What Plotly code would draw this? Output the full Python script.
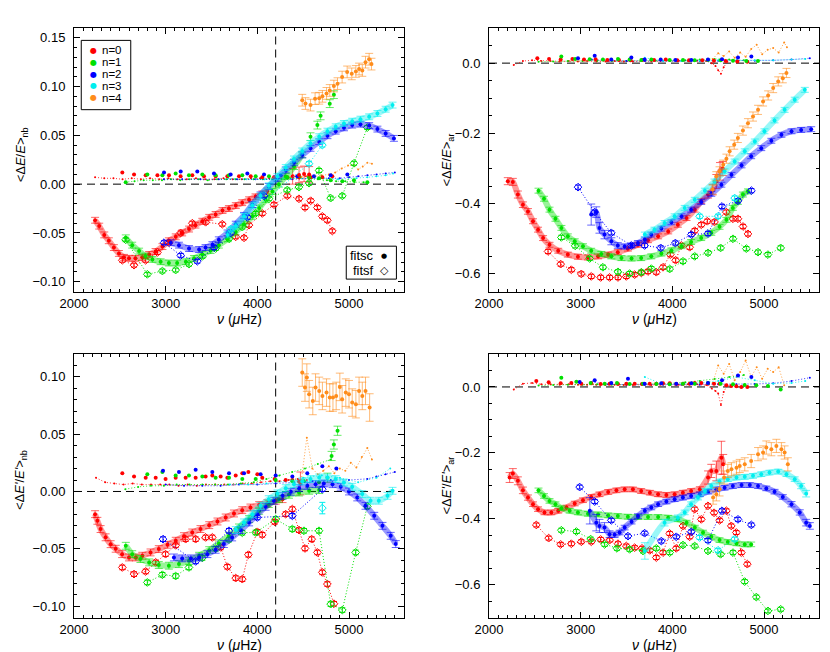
import plotly.graph_objects as go

RED = '#ff0000'; GRN = '#00e000'; BLU = '#0000ff'; CYN = '#00eeee'; ORG = '#ff8c1a'

# ---------------- Panel A (top-left) <dE/E>_nb ----------------
a_sc0_nu = [2230,2275,2330,2380,2435,2490,2545,2600,2670,2745,2820,2890,2965,3035,3110,3180,3255,3325,3400,3475,3545,3620,3690,3765,3835,3910,3980,4055,4110]
a_sc0_v = [-0.037,-0.043,-0.052,-0.058,-0.065,-0.071,-0.075,-0.076,-0.076,-0.075,-0.072,-0.069,-0.064,-0.058,-0.054,-0.050,-0.046,-0.042,-0.038,-0.034,-0.031,-0.027,-0.025,-0.022,-0.019,-0.016,-0.013,-0.010,-0.007]
a_sc0x_nu = [4385,4455,4510,4565]
a_sc0x_v = [0.008,0.0095,0.0105,0.010]
a_sf0_nu = [2527,2655,2782,2910,3036,3163,3291,3436,3618,3764,3855,3909,4054,4182,4327,4454,4520,4582,4655,4709,4764,4818]
a_sf0_v = [-0.078,-0.083,-0.078,-0.070,-0.060,-0.050,-0.040,-0.039,-0.041,-0.054,-0.055,-0.042,-0.030,-0.021,-0.012,-0.015,-0.024,-0.017,-0.024,-0.033,-0.037,-0.048]
a_sc1_nu = [2565,2635,2710,2780,2855,2945,3035,3125,3220,3310,3400,3490,3580,3675,3765,3855,3945,4020,4090,4165,4235,4310,4400,4490]
a_sc1_v = [-0.055,-0.0625,-0.0686,-0.0737,-0.0771,-0.0795,-0.0808,-0.0808,-0.0795,-0.0761,-0.072,-0.068,-0.0625,-0.056,-0.049,-0.041,-0.033,-0.0245,-0.016,-0.0075,0.0,0.0078,0.018,0.030]
a_sc1x_nu = [4580,4655,4690,4790,4835]
a_sc1x_v = [0.0486,0.0605,0.070,0.0825,0.0917]
a_sf1_nu = [2564,2800,2964,3109,3254,3400,3545,3691,3836,3982,4127,4327,4454,4564,4673,4800,4927,5054,5200]
a_sf1_v = [-0.057,-0.0924,-0.089,-0.088,-0.082,-0.074,-0.066,-0.056,-0.044,-0.030,-0.015,-0.006,-0.003,0.001,0.014,-0.0143,-0.012,0.0214,0.058]
a_sc2_nu = [3055,3145,3255,3365,3435,3510,3580,3675,3765,3855,3945,4035,4125,4220,4310,4400,4490,4580,4675,4765,4855,4945,5035,5125,5220,5310,5400,5490]
a_sc2_v = [-0.060,-0.0625,-0.066,-0.067,-0.065,-0.062,-0.057,-0.050,-0.041,-0.032,-0.021,-0.011,-0.0024,0.006,0.0146,0.0224,0.030,0.0367,0.0435,0.0496,0.0543,0.0577,0.0605,0.0615,0.060,0.0564,0.052,0.0469]
a_sf2_nu = [2982,3164,3345,3527,3709,3891,4073]
a_sf2_v = [-0.060,-0.073,-0.079,-0.065,-0.050,-0.034,-0.012]
a_sc3_nu = [3675,3765,3855,3945,4035,4125,4220,4310,4400,4490,4580,4675,4765,4855,4945,5035,5125,5220,5310,5400,5475]
a_sc3_v = [-0.052,-0.043,-0.033,-0.022,-0.012,-0.0017,0.0078,0.017,0.0258,0.034,0.0418,0.0486,0.0543,0.0588,0.0622,0.0645,0.0666,0.069,0.0724,0.0768,0.081]
a_sf3_nu = [3709,4564,4709]
a_sf3_v = [-0.046,0.021,0.040]
a_sc4_nu = [4490,4525,4580,4630,4675,4710,4755,4790,4835,4875,4925,4980,5030,5075,5110,5145,5180,5220,5245]
a_sc4_v = [0.086,0.0826,0.081,0.0876,0.088,0.090,0.093,0.096,0.1005,0.103,0.1097,0.115,0.113,0.1155,0.118,0.1165,0.125,0.128,0.123]
a_t0_nu = [2230,2330,2430,2530,2630,2730,2830,2930,3030,3130,3230,3330,3430,3530,3630,3730,3830,3930,4030,4130,4230,4330,4430,4530]
a_t0_v = [0.007,0.006,0.006,0.005,0.006,0.005,0.006,0.005,0.006,0.005,0.005,0.006,0.005,0.005,0.006,0.005,0.005,0.006,0.006,0.006,0.007,0.007,0.008,0.008]
a_t1_nu = [2560,2660,2760,2860,2960,3060,3160,3260,3360,3460,3560,3660,3760,3860,3960,4060,4160,4260,4360,4460,4560,4660,4760,4860,4960,5060,5160]
a_t1_v = [0.002,0.003,0.004,0.004,0.004,0.005,0.004,0.005,0.005,0.004,0.005,0.005,0.005,0.005,0.005,0.005,0.005,0.005,0.006,0.006,0.005,0.005,0.004,0.003,0.003,0.002,0.002]
a_t2_nu = [2980,3180,3380,3580,3780,3980,4180,4380,4580,4780,4900,5000,5100,5200,5300,5400,5500]
a_t2_v = [0.005,0.005,0.005,0.005,0.005,0.005,0.005,0.005,0.006,0.006,0.006,0.007,0.008,0.009,0.010,0.011,0.012]
a_t3_nu = [3680,3880,4080,4280,4480,4680,4880,5080,5200,5300,5400,5480]
a_t3_v = [0.006,0.005,0.005,0.006,0.006,0.006,0.005,0.006,0.007,0.008,0.009,0.011]
a_t4_nu = [4480,4550,4620,4700,4780,4850,4920,4990,5050,5100,5150,5200,5250]
a_t4_v = [0.007,0.008,0.008,0.009,0.010,0.012,0.016,0.019,0.020,0.015,0.018,0.022,0.021]
a_m0_nu = [2527,2655,2782,2910,3036,3163,3291,3418,3545,3673,3800,3928,4054,4182,4327,4454,4582,4709,4818]
a_m0_v = [0.012,0.010,0.009,0.009,0.009,0.008,0.009,0.008,0.008,0.008,0.008,0.008,0.007,0.007,0.007,0.007,0.007,0.007,0.008]
a_m1_nu = [2564,2800,2964,3109,3254,3400,3545,3691,3836,3982,4127,4327,4454,4564,4673,4800,4927,5054,5200]
a_m1_v = [0.002,0.010,0.009,0.011,0.009,0.010,0.009,0.009,0.009,0.008,0.008,0.007,0.008,0.007,0.006,0.004,0.003,0.004,0.002]
a_m2_nu = [2982,3164,3345,3527,3709,3891,4073,4255,4436,4618,4800,4982]
a_m2_v = [0.012,0.013,0.013,0.011,0.010,0.011,0.010,0.009,0.008,0.008,0.009,0.010]

# ---------------- Panel B (top-right) <dE/E>_ar ----------------
b_sc0_nu = [2205,2260,2315,2370,2425,2480,2535,2590,2660,2755,2860,2970,3080,3190,3300,3405,3515,3625,3735,3845,3955,4060,4155,4245,4315,4390,4440,4480,4520,4550]
b_sc0_v = [-0.336,-0.338,-0.374,-0.403,-0.422,-0.450,-0.474,-0.498,-0.517,-0.534,-0.545,-0.551,-0.553,-0.550,-0.545,-0.538,-0.528,-0.517,-0.504,-0.493,-0.479,-0.460,-0.441,-0.417,-0.393,-0.374,-0.360,-0.337,-0.308,-0.300]
b_sc0_e = [0.01,0.01,0.01,0.008,0.008,0.007,0.007,0.007,0.007,0.007,0.007,0.007,0.007,0.007,0.007,0.007,0.007,0.007,0.007,0.007,0.007,0.007,0.007,0.007,0.007,0.01,0.015,0.02,0.025,0.02]
b_sf0_nu = [2644,2782,2898,3007,3116,3218,3316,3407,3498,3589,3662,3734,3825,3898,3978,4036,4098,4189,4244,4316,4382,4460,4589,4662,4716,4771,4825]
b_sf0_v = [-0.536,-0.572,-0.588,-0.600,-0.607,-0.610,-0.610,-0.610,-0.607,-0.602,-0.597,-0.593,-0.595,-0.581,-0.545,-0.561,-0.519,-0.524,-0.477,-0.460,-0.450,-0.452,-0.424,-0.443,-0.443,-0.465,-0.486]
b_sc1_nu = [2540,2600,2660,2725,2790,2860,2935,3025,3115,3225,3335,3445,3555,3660,3770,3880,3990,4100,4205,4315,4425,4515,4590,4660,4715,4770,4825]
b_sc1_v = [-0.363,-0.386,-0.417,-0.443,-0.469,-0.493,-0.507,-0.521,-0.534,-0.543,-0.550,-0.555,-0.556,-0.555,-0.550,-0.542,-0.533,-0.521,-0.509,-0.498,-0.483,-0.466,-0.446,-0.412,-0.395,-0.374,-0.365]
b_sf1_nu = [2789,2940,3098,3243,3407,3534,3662,3771,3971,4116,4244,4389,4527,4662,4807,4934,5043,5182]
b_sf1_v = [-0.496,-0.520,-0.556,-0.581,-0.594,-0.599,-0.595,-0.585,-0.586,-0.564,-0.550,-0.540,-0.526,-0.500,-0.528,-0.538,-0.545,-0.526]
b_sc2_nu = [3115,3170,3205,3260,3335,3405,3480,3555,3625,3700,3770,3880,3990,4100,4205,4315,4425,4535,4645,4755,4860,4970,5080,5190,5300,5405,5515]
b_sc2_v = [-0.431,-0.424,-0.469,-0.488,-0.507,-0.519,-0.522,-0.519,-0.512,-0.502,-0.488,-0.471,-0.453,-0.436,-0.417,-0.395,-0.372,-0.346,-0.318,-0.291,-0.265,-0.242,-0.221,-0.204,-0.194,-0.190,-0.188]
b_sc2_e = [0.03,0.015,0.015,0.012,0.01,0.008,0.007,0.007,0.007,0.007,0.007,0.007,0.007,0.007,0.007,0.007,0.007,0.007,0.007,0.007,0.007,0.007,0.007,0.007,0.007,0.007,0.007]
b_sf2_nu = [2971,3153,3334,3553,3698,3873,4033,4207,4389,4542,4716,4862]
b_sf2_v = [-0.353,-0.424,-0.483,-0.519,-0.519,-0.526,-0.512,-0.488,-0.485,-0.408,-0.392,-0.363]
b_sc3_nu = [3700,3805,3915,4025,4135,4245,4355,4460,4570,4680,4790,4900,5005,5115,5225,5335,5445]
b_sc3_v = [-0.488,-0.474,-0.455,-0.436,-0.412,-0.389,-0.363,-0.337,-0.308,-0.280,-0.251,-0.223,-0.194,-0.163,-0.133,-0.104,-0.076]
b_sf3_nu = [4298,4498,4680]
b_sf3_v = [-0.436,-0.436,-0.384]
b_sc4_nu = [4440,4480,4515,4555,4590,4625,4675,4715,4770,4825,4880,4935,4990,5045,5100,5155,5205,5245]
b_sc4_v = [-0.360,-0.322,-0.308,-0.289,-0.272,-0.251,-0.232,-0.213,-0.192,-0.171,-0.152,-0.133,-0.109,-0.092,-0.071,-0.052,-0.043,-0.028]
b_t0_nu = [2270,2370,2470,2570,2670,2770,2870,2970,3070,3170,3270,3370,3470,3570,3670,3770,3870,3970,4070,4170,4270,4370,4430,4470,4500,4530,4560,4600]
b_t0_v = [-0.005,0.006,0.008,0.006,0.006,0.005,0.006,0.005,0.006,0.005,0.005,0.006,0.005,0.005,0.006,0.005,0.006,0.006,0.006,0.007,0.007,0.006,0.0,-0.008,-0.020,-0.030,-0.012,0.004]
b_t1_nu = [2540,2700,2860,3020,3180,3340,3500,3660,3820,3980,4140,4300,4460,4620,4780]
b_t1_v = [0.004,0.005,0.006,0.006,0.007,0.006,0.006,0.006,0.007,0.007,0.008,0.010,0.012,0.010,0.008]
b_t2_nu = [3120,3300,3500,3700,3900,4100,4300,4500,4700,4900,5100,5300,5500]
b_t2_v = [0.010,0.007,0.006,0.006,0.006,0.006,0.006,0.007,0.007,0.007,0.008,0.010,0.014]
b_t3_nu = [3700,3900,4100,4300,4500,4700,4900,5100,5300,5450]
b_t3_v = [0.015,0.006,0.006,0.007,0.008,0.009,0.008,0.008,0.010,0.012]
b_t4_nu = [4440,4500,4560,4620,4680,4740,4800,4860,4920,4980,5040,5100,5160,5220,5250]
b_t4_v = [0.012,0.028,0.020,0.033,0.015,0.030,0.018,0.040,0.052,0.025,0.038,0.043,0.030,0.059,0.045]
b_m0_nu = [2527,2655,2782,2910,3036,3163,3291,3418,3545,3673,3800,3928,4054,4182,4327,4454,4582,4709,4818]
b_m0_v = [0.014,0.012,0.010,0.012,0.010,0.011,0.009,0.009,0.008,0.009,0.009,0.010,0.008,0.008,0.008,0.007,0.006,0.005,0.004]
b_m1_nu = [2789,2940,3098,3243,3407,3534,3662,3771,3971,4116,4244,4389,4527,4662,4807,4934]
b_m1_v = [0.019,0.012,0.011,0.010,0.012,0.010,0.009,0.010,0.009,0.009,0.008,0.009,0.008,0.007,0.006,0.006]
b_m2_nu = [2971,3153,3334,3553,3698,3873,4033,4207,4389,4542,4716,4862]
b_m2_v = [0.014,0.021,0.010,0.016,0.010,0.010,0.009,0.009,0.010,0.011,0.016,0.019]

# ---------------- Panel C (bottom-left) <dE'/E'>_nb ----------------
c_sc0_nu = [2230,2255,2290,2345,2400,2455,2525,2600,2675,2745,2835,2925,3020,3110,3200,3290,3380,3475,3565,3655,3745,3835,3925,4020,4110,4200,4275]
c_sc0_v = [-0.0198,-0.0256,-0.0328,-0.040,-0.046,-0.050,-0.0547,-0.0576,-0.0576,-0.0561,-0.0532,-0.0503,-0.0465,-0.043,-0.039,-0.0358,-0.0328,-0.0294,-0.0262,-0.0227,-0.0192,-0.0163,-0.014,-0.0119,-0.0102,-0.0081,-0.0067]
c_sc0x_nu = [4470]
c_sc0x_v = [0.007]
c_sf0_nu = [2527,2655,2782,2891,2999,3109,3218,3327,3436,3509,3600,3673,3764,3836,3902,4000,4054,4189,4309,4382,4454,4520,4593,4655,4709,4764,4836]
c_sf0_v = [-0.0663,-0.0721,-0.0698,-0.0619,-0.0547,-0.047,-0.0416,-0.0416,-0.0401,-0.0401,-0.0488,-0.0657,-0.0756,-0.0765,-0.0552,-0.0352,-0.0378,-0.0265,-0.0198,-0.0154,-0.0337,-0.0497,-0.0416,-0.0532,-0.0706,-0.0808,-0.098]
c_sc1_nu = [2565,2635,2725,2820,2925,3035,3145,3255,3365,3475,3580,3690,3800,3910,4020,4125,4235,4345,4455,4565,4675]
c_sc1_v = [-0.0474,-0.0547,-0.059,-0.0619,-0.0642,-0.0648,-0.0634,-0.0605,-0.0561,-0.0512,-0.0453,-0.0387,-0.0314,-0.0241,-0.0169,-0.011,-0.0067,-0.0029,-0.0009,0.0006,0.0012]
c_sc1x_nu = [4765,4810,4835,4875]
c_sc1x_v = [0.012,0.031,0.041,0.053]
c_sf1_nu = [2800,2964,3109,3254,3400,3545,3691,3836,3982,4200,4382,4509,4673,4800,4927,5073,5200]
c_sf1_v = [-0.0794,-0.0727,-0.0738,-0.0663,-0.058,-0.050,-0.042,-0.036,-0.0358,-0.0241,-0.0328,-0.0343,-0.0343,-0.0983,-0.1035,-0.0532,-0.013]
c_sc2_nu = [3090,3180,3275,3365,3455,3545,3635,3725,3820,3910,4000,4090,4180,4275,4365,4455,4545,4635,4725,4820,4910,5000,5090,5180,5275,5365,5455,5510]
c_sc2_v = [-0.0576,-0.0584,-0.0584,-0.0576,-0.0547,-0.0509,-0.0459,-0.0401,-0.0337,-0.027,-0.0198,-0.0134,-0.0081,-0.0038,-0.0003,0.0029,0.0049,0.0064,0.007,0.0064,0.0041,0.0,-0.0052,-0.0125,-0.0212,-0.030,-0.0387,-0.0459]
c_sf2_nu = [2971,3327,3691,4000,4382,4709]
c_sf2_v = [-0.0416,-0.061,-0.0343,-0.0227,-0.0212,0.002]
c_sc3_nu = [3765,3855,3945,4035,4125,4220,4310,4400,4490,4580,4675,4765,4855,4945,5035,5145,5235,5325,5420,5475]
c_sc3_v = [-0.0337,-0.027,-0.0198,-0.0125,-0.0067,-0.0017,0.0029,0.0064,0.0087,0.0108,0.0122,0.0122,0.0108,0.0078,0.0041,-0.0023,-0.0081,-0.0081,-0.0038,0.0006]
c_sf3_nu = [4709]
c_sf3_v = [-0.0145]
c_sc4_nu = [4490,4520,4540,4565,4605,4635,4675,4710,4755,4790,4825,4860,4900,4925,4965,5000,5035,5075,5110,5145,5180,5225]
c_sc4_v = [0.1038,0.0907,0.0994,0.0849,0.079,0.0907,0.0878,0.0834,0.0863,0.082,0.082,0.0834,0.0913,0.0805,0.0863,0.0849,0.0776,0.0762,0.0878,0.0834,0.0878,0.0733]
c_t0_nu = [2240,2340,2440,2540,2640,2740,2840,2940,3040,3140,3240,3340,3440,3540,3640,3740,3840,3940,4040,4140,4240,4340,4440,4540]
c_t0_v = [0.012,0.008,0.007,0.006,0.007,0.006,0.006,0.006,0.006,0.005,0.006,0.005,0.006,0.006,0.006,0.006,0.007,0.007,0.008,0.009,0.009,0.010,0.011,0.010]
c_t1_nu = [2560,2700,2840,2980,3120,3260,3400,3540,3680,3820,3960,4100,4240,4380,4520,4660,4800]
c_t1_v = [0.002,0.004,0.005,0.005,0.006,0.006,0.006,0.006,0.006,0.007,0.008,0.011,0.014,0.017,0.020,0.024,0.028]
c_t2_nu = [3000,3200,3400,3600,3800,4000,4200,4400,4600,4800,5000,5200,5300,5400,5500]
c_t2_v = [0.006,0.005,0.005,0.005,0.006,0.006,0.007,0.008,0.009,0.010,0.010,0.011,0.013,0.015,0.017]
c_t3_nu = [3700,3900,4100,4300,4500,4700,4900,5100,5300,5450]
c_t3_v = [0.006,0.006,0.007,0.009,0.012,0.014,0.012,0.008,0.012,0.020]
c_t4_nu = [4480,4540,4600,4660,4720,4780,4840,4900,4960,5020,5080,5140,5200,5250]
c_t4_v = [0.010,0.047,0.020,0.015,0.018,0.022,0.016,0.020,0.018,0.025,0.021,0.030,0.038,0.028]
c_m0_nu = [2527,2655,2782,2891,2999,3109,3218,3327,3436,3509,3600,3673,3764,3836,3902,4000,4054,4189,4309,4382,4454]
c_m0_v = [0.016,0.013,0.012,0.012,0.011,0.012,0.012,0.012,0.013,0.014,0.013,0.012,0.014,0.016,0.017,0.015,0.012,0.011,0.010,0.010,0.009]
c_m1_nu = [2800,2964,3109,3254,3400,3545,3691,3836,3982,4200,4382,4509,4673]
c_m1_v = [0.015,0.017,0.014,0.014,0.013,0.012,0.012,0.011,0.011,0.010,0.009,0.009,0.008]
c_m2_nu = [2971,3145,3327,3509,3691,3855,4036,4200,4382,4545,4709,4862]
c_m2_v = [0.018,0.017,0.019,0.017,0.016,0.016,0.015,0.014,0.013,0.016,0.022,0.020]

# ---------------- Panel D (bottom-right) <dE'/E'>_ar ----------------
d_sc0_nu = [2225,2260,2315,2370,2425,2480,2535,2605,2680,2755,2845,2935,3025,3115,3205,3300,3390,3480,3570,3660,3755,3845,3935,4025,4115,4205,4300,4390,4425,4480,4535,4555]
d_sc0_v = [-0.275,-0.263,-0.285,-0.314,-0.336,-0.356,-0.371,-0.381,-0.381,-0.376,-0.366,-0.354,-0.344,-0.334,-0.326,-0.319,-0.314,-0.311,-0.311,-0.316,-0.321,-0.326,-0.328,-0.326,-0.321,-0.316,-0.311,-0.275,-0.255,-0.255,-0.215,-0.235]
d_sc0_e = [0.015,0.015,0.012,0.01,0.008,0.007,0.007,0.007,0.007,0.007,0.007,0.007,0.007,0.007,0.007,0.007,0.007,0.007,0.007,0.007,0.007,0.007,0.007,0.007,0.007,0.007,0.008,0.02,0.02,0.03,0.05,0.03]
d_sf0_nu = [2516,2651,2782,2898,3007,3116,3218,3316,3407,3498,3589,3669,3753,3825,3898,3971,4043,4116,4189,4244,4316,4389,4455,4516,4589,4643,4698,4753,4818]
d_sf0_v = [-0.419,-0.459,-0.478,-0.476,-0.470,-0.470,-0.463,-0.465,-0.476,-0.483,-0.488,-0.490,-0.496,-0.518,-0.503,-0.445,-0.490,-0.422,-0.455,-0.371,-0.402,-0.361,-0.382,-0.405,-0.376,-0.422,-0.442,-0.503,-0.538]
d_sc1_nu = [2540,2600,2660,2725,2790,2880,2970,3080,3190,3300,3405,3515,3625,3735,3845,3955,4060,4155,4245,4335,4425,4515,4605,4700,4790,4860]
d_sc1_v = [-0.314,-0.331,-0.346,-0.356,-0.368,-0.376,-0.381,-0.385,-0.387,-0.390,-0.392,-0.394,-0.395,-0.395,-0.395,-0.397,-0.402,-0.412,-0.427,-0.442,-0.455,-0.465,-0.471,-0.475,-0.478,-0.478]
d_sf1_nu = [2789,2953,3109,3262,3396,3534,3680,3825,3971,4116,4244,4389,4527,4662,4789,4916,5043,5182]
d_sf1_v = [-0.435,-0.439,-0.462,-0.478,-0.490,-0.493,-0.498,-0.490,-0.503,-0.480,-0.483,-0.498,-0.508,-0.503,-0.591,-0.638,-0.680,-0.675]
d_sc2_nu = [3100,3170,3205,3260,3315,3370,3425,3480,3555,3625,3700,3770,3845,3935,4025,4115,4205,4300,4390,4480,4570,4660,4755,4845,4935,5025,5115,5205,5300,5390,5460,5500]
d_sc2_v = [-0.376,-0.412,-0.422,-0.427,-0.447,-0.449,-0.442,-0.427,-0.409,-0.392,-0.376,-0.366,-0.356,-0.348,-0.341,-0.336,-0.331,-0.326,-0.318,-0.311,-0.306,-0.301,-0.298,-0.298,-0.301,-0.308,-0.318,-0.334,-0.356,-0.381,-0.412,-0.422]
d_sc2_e = [0.04,0.025,0.02,0.015,0.01,0.008,0.007,0.007,0.007,0.007,0.007,0.007,0.007,0.007,0.007,0.007,0.007,0.007,0.007,0.007,0.007,0.007,0.007,0.007,0.007,0.007,0.007,0.007,0.008,0.008,0.01,0.01]
d_sf2_nu = [2989,3153,3334,3516,3698,3880,4043,4207,4389,4542,4716,4862]
d_sf2_v = [-0.304,-0.348,-0.405,-0.453,-0.444,-0.468,-0.455,-0.440,-0.466,-0.376,-0.402,-0.419]
d_sc3_nu = [3700,3915,4060,4135,4205,4280,4355,4425,4515,4605,4700,4790,4880,4970,5060,5155,5245,5335,5405,5460]
d_sc3_v = [-0.498,-0.412,-0.397,-0.381,-0.356,-0.336,-0.316,-0.301,-0.287,-0.280,-0.275,-0.273,-0.270,-0.265,-0.260,-0.257,-0.265,-0.280,-0.301,-0.324]
d_sc3_e = [0.025,0.01,0.008,0.007,0.007,0.007,0.007,0.007,0.007,0.007,0.007,0.007,0.007,0.007,0.007,0.007,0.007,0.007,0.008,0.01]
d_sf3_nu = [4298,4498,4680]
d_sf3_v = [-0.457,-0.496,-0.462]
d_sc4_nu = [4445,4480,4515,4565,4605,4645,4700,4735,4790,4860,4935,4990,5025,5080,5135,5190,5225,5260]
d_sc4_v = [-0.336,-0.326,-0.311,-0.275,-0.255,-0.250,-0.245,-0.240,-0.235,-0.225,-0.204,-0.199,-0.184,-0.189,-0.179,-0.189,-0.199,-0.235]
d_t0_nu = [2270,2370,2470,2570,2670,2770,2870,2970,3070,3170,3270,3370,3470,3570,3670,3770,3870,3970,4070,4170,4270,4370,4430,4470,4500,4530,4560,4600]
d_t0_v = [-0.008,0.010,0.012,0.008,0.008,0.007,0.008,0.007,0.007,0.007,0.006,0.007,0.006,0.006,0.007,0.006,0.007,0.007,0.007,0.008,0.008,0.006,-0.005,-0.012,-0.020,-0.055,-0.015,0.005]
d_t1_nu = [2540,2700,2860,3020,3180,3340,3500,3660,3820,3980,4140,4300,4460,4620,4780]
d_t1_v = [0.004,0.006,0.007,0.007,0.008,0.007,0.007,0.008,0.009,0.011,0.014,0.018,0.024,0.030,0.036]
d_t2_nu = [3120,3300,3500,3700,3900,4100,4300,4500,4700,4900,5100,5300,5500]
d_t2_v = [0.015,0.008,0.007,0.007,0.007,0.007,0.007,0.008,0.008,0.009,0.011,0.018,0.028]
d_t3_nu = [3700,3900,4100,4300,4500,4700,4900,5100,5300,5450]
d_t3_v = [0.030,0.008,0.009,0.012,0.018,0.030,0.020,0.010,0.012,0.018]
d_t4_nu = [4440,4500,4560,4620,4680,4740,4800,4860,4920,4980,5040,5100,5160,5220]
d_t4_v = [0.012,0.065,0.040,0.070,0.020,0.045,0.080,0.030,0.060,0.025,0.055,0.045,0.060,0.005]
d_m0_nu = [2516,2651,2782,2898,3007,3116,3218,3316,3407,3498,3589,3669,3753,3825,3898,3971,4043,4116,4189,4244,4316,4389,4455,4516,4589,4643,4698,4753,4818]
d_m0_v = [0.018,0.014,0.011,0.012,0.010,0.011,0.009,0.010,0.009,0.010,0.010,0.009,0.010,0.010,0.011,0.011,0.009,0.010,0.010,0.012,0.012,0.010,0.010,0.010,0.005,0.003,0.002,0.0,0.0]
d_m1_nu = [2789,2953,3109,3262,3396,3534,3680,3825,3971,4116,4244,4389,4527,4662,4789,4916,5043,5182]
d_m1_v = [0.028,0.016,0.012,0.010,0.012,0.009,0.010,0.009,0.008,0.010,0.010,0.012,0.010,0.008,0.006,0.005,0.003,-0.008]
d_m2_nu = [2989,3153,3334,3516,3698,3880,4043,4207,4389,4542,4716,4862]
d_m2_v = [0.015,0.020,0.012,0.025,0.010,0.011,0.010,0.011,0.012,0.020,0.035,0.030]

legend_labels = ['n=0', 'n=1', 'n=2', 'n=3', 'n=4']
x_ticks = [2000, 3000, 4000, 5000]

fig = go.Figure()
AX = {'A': ('x', 'y'), 'B': ('x2', 'y2'), 'C': ('x3', 'y3'), 'D': ('x4', 'y4')}
ERR_SC = {'A': 0.003, 'B': 0.007, 'C': 0.003, 'D': 0.007}
ERR_SF = {'A': 0.002, 'B': 0.006, 'C': 0.002, 'D': 0.006}
DOT = '1px,2px'


def rgba(c, a):
    c = c.lstrip('#')
    return 'rgba(%d,%d,%d,%.2f)' % (int(c[0:2], 16), int(c[2:4], 16), int(c[4:6], 16), a)


def sc(p, nu, v, c, err=None, band=False):
    xa, ya = AX[p]
    if err is None:
        err = ERR_SC[p]
    if not isinstance(err, list):
        err = [err] * len(nu)
    if band:
        fig.add_trace(go.Scatter(x=nu, y=v, xaxis=xa, yaxis=ya, mode='lines',
                                 line=dict(color=rgba(c, 0.40), width=6, shape='spline', smoothing=0.6),
                                 showlegend=False, hoverinfo='skip'))
    fig.add_trace(go.Scatter(x=nu, y=v, xaxis=xa, yaxis=ya, mode='markers',
                             marker=dict(symbol='circle', size=4, color=c),
                             error_y=dict(type='data', array=err, visible=True,
                                          color=rgba(c, 0.6), thickness=1, width=4),
                             showlegend=False, hoverinfo='skip'))


def sf(p, nu, v, c, err=None):
    xa, ya = AX[p]
    if err is None:
        err = ERR_SF[p]
    fig.add_trace(go.Scatter(x=nu, y=v, xaxis=xa, yaxis=ya, mode='lines+markers',
                             line=dict(color=c, width=1, dash=DOT),
                             marker=dict(symbol='diamond-open', size=6, color=c, line=dict(width=1, color=c)),
                             error_y=dict(type='constant', value=err, visible=True,
                                          color=c, thickness=1, width=3),
                             showlegend=False, hoverinfo='skip'))


def tiny(p, nu, v, c):
    xa, ya = AX[p]
    fig.add_trace(go.Scatter(x=nu, y=v, xaxis=xa, yaxis=ya, mode='lines+markers',
                             line=dict(color=rgba(c, 0.8), width=1, dash=DOT),
                             marker=dict(size=2, color=c),
                             showlegend=False, hoverinfo='skip'))


def med(p, nu, v, c):
    xa, ya = AX[p]
    fig.add_trace(go.Scatter(x=nu, y=v, xaxis=xa, yaxis=ya, mode='markers',
                             marker=dict(size=4, color=c),
                             showlegend=False, hoverinfo='skip'))


# near-zero series
for p, T, M in [
    ('A', [(a_t0_nu, a_t0_v), (a_t1_nu, a_t1_v), (a_t2_nu, a_t2_v), (a_t3_nu, a_t3_v), (a_t4_nu, a_t4_v)],
          [(a_m0_nu, a_m0_v), (a_m1_nu, a_m1_v), (a_m2_nu, a_m2_v)]),
    ('B', [(b_t0_nu, b_t0_v), (b_t1_nu, b_t1_v), (b_t2_nu, b_t2_v), (b_t3_nu, b_t3_v), (b_t4_nu, b_t4_v)],
          [(b_m0_nu, b_m0_v), (b_m1_nu, b_m1_v), (b_m2_nu, b_m2_v)]),
    ('C', [(c_t0_nu, c_t0_v), (c_t1_nu, c_t1_v), (c_t2_nu, c_t2_v), (c_t3_nu, c_t3_v), (c_t4_nu, c_t4_v)],
          [(c_m0_nu, c_m0_v), (c_m1_nu, c_m1_v), (c_m2_nu, c_m2_v)]),
    ('D', [(d_t0_nu, d_t0_v), (d_t1_nu, d_t1_v), (d_t2_nu, d_t2_v), (d_t3_nu, d_t3_v), (d_t4_nu, d_t4_v)],
          [(d_m0_nu, d_m0_v), (d_m1_nu, d_m1_v), (d_m2_nu, d_m2_v)]),
]:
    for (nu, v), c in zip(T, [RED, GRN, BLU, CYN, ORG]):
        tiny(p, nu, v, c)
    for (nu, v), c in zip(M, [RED, GRN, BLU]):
        med(p, nu, v, c)

# Panel A
sc('A', a_sc0_nu, a_sc0_v, RED, band=True); sc('A', a_sc0x_nu, a_sc0x_v, RED, 0.008); sf('A', a_sf0_nu, a_sf0_v, RED)
sc('A', a_sc1_nu, a_sc1_v, GRN, band=True); sc('A', a_sc1x_nu, a_sc1x_v, GRN, 0.004); sf('A', a_sf1_nu, a_sf1_v, GRN)
sc('A', a_sc2_nu, a_sc2_v, BLU, band=True); sf('A', a_sf2_nu, a_sf2_v, BLU)
sc('A', a_sc3_nu, a_sc3_v, CYN, band=True); sf('A', a_sf3_nu, a_sf3_v, CYN)
sc('A', a_sc4_nu, a_sc4_v, ORG, 0.006)
# Panel B
sc('B', b_sc0_nu, b_sc0_v, RED, b_sc0_e, band=True); sf('B', b_sf0_nu, b_sf0_v, RED)
sc('B', b_sc1_nu, b_sc1_v, GRN, band=True); sf('B', b_sf1_nu, b_sf1_v, GRN)
sc('B', b_sc2_nu, b_sc2_v, BLU, b_sc2_e, band=True); sf('B', b_sf2_nu, b_sf2_v, BLU)
sc('B', b_sc3_nu, b_sc3_v, CYN, band=True); sf('B', b_sf3_nu, b_sf3_v, CYN)
sc('B', b_sc4_nu, b_sc4_v, ORG, 0.013)
# Panel C
sc('C', c_sc0_nu, c_sc0_v, RED, band=True); sc('C', c_sc0x_nu, c_sc0x_v, RED, 0.01); sf('C', c_sf0_nu, c_sf0_v, RED)
sc('C', c_sc1_nu, c_sc1_v, GRN, band=True); sc('C', c_sc1x_nu, c_sc1x_v, GRN, 0.004); sf('C', c_sf1_nu, c_sf1_v, GRN)
sc('C', c_sc2_nu, c_sc2_v, BLU, band=True); sf('C', c_sf2_nu, c_sf2_v, BLU)
sc('C', c_sc3_nu, c_sc3_v, CYN, band=True); sf('C', c_sf3_nu, c_sf3_v, CYN, 0.005)
sc('C', c_sc4_nu, c_sc4_v, ORG, 0.012)
# Panel D
sc('D', d_sc0_nu, d_sc0_v, RED, d_sc0_e, band=True); sf('D', d_sf0_nu, d_sf0_v, RED)
sc('D', d_sc1_nu, d_sc1_v, GRN, band=True); sf('D', d_sf1_nu, d_sf1_v, GRN)
sc('D', d_sc2_nu, d_sc2_v, BLU, d_sc2_e, band=True); sf('D', d_sf2_nu, d_sf2_v, BLU)
sc('D', d_sc3_nu, d_sc3_v, CYN, d_sc3_e, band=True); sf('D', d_sf3_nu, d_sf3_v, CYN)
sc('D', d_sc4_nu, d_sc4_v, ORG, 0.02)

FONT = 'Liberation Sans, Arial, Helvetica, sans-serif'
xl = [66 / 830, 396 / 830]
xr = [481 / 830, 811 / 830]
yt = [1 - 283.5 / 652, 1 - 20 / 652]
yb = [1 - 609.5 / 652, 1 - 346 / 652]


def xaxis(dom, anchor):
    return dict(domain=dom, anchor=anchor, range=[2000, 5600], tickvals=x_ticks,
                ticks='inside', ticklen=6, tickwidth=1, tickcolor='black',
                minor=dict(ticks='inside', ticklen=3, dtick=100, tick0=2000, tickcolor='black'),
                showline=True, linecolor='black', linewidth=1, mirror='ticks',
                showgrid=False, zeroline=False, automargin=False,
                tickfont=dict(family=FONT, size=13, color='black'), ticklabelstandoff=0)


def yaxis(dom, anchor, rng, dt, mdt, fmt):
    return dict(domain=dom, anchor=anchor, range=rng, dtick=dt, tick0=0, tickformat=fmt,
                ticks='inside', ticklen=6, tickwidth=1, tickcolor='black',
                minor=dict(ticks='inside', ticklen=3, dtick=mdt, tick0=0, tickcolor='black'),
                showline=True, linecolor='black', linewidth=1, mirror='ticks',
                showgrid=False, zeroline=False, automargin=False,
                tickfont=dict(family=FONT, size=13, color='black'), ticklabelstandoff=5)


fig.update_layout(
    width=830, height=652, margin=dict(l=0, r=0, t=0, b=0),
    paper_bgcolor='white', plot_bgcolor='white', template='none', showlegend=False,
    xaxis=xaxis(xl, 'y'), yaxis=yaxis(yt, 'x', [-0.11, 0.16], 0.05, 0.01, '.2f'),
    xaxis2=xaxis(xr, 'y2'), yaxis2=yaxis(yt, 'x2', [-0.65, 0.1], 0.2, 0.05, '.1f'),
    xaxis3=xaxis(xl, 'y3'), yaxis3=yaxis(yb, 'x3', [-0.11, 0.12], 0.05, 0.01, '.2f'),
    xaxis4=xaxis(xr, 'y4'), yaxis4=yaxis(yb, 'x4', [-0.7, 0.1], 0.2, 0.05, '.1f'),
)

shapes = []
anns = []
DASH = '8px,5px'
for xa, ya in [('x', 'y'), ('x2', 'y2'), ('x3', 'y3'), ('x4', 'y4')]:
    shapes.append(dict(type='line', xref=xa + ' domain', yref=ya, x0=0, x1=1, y0=0, y1=0,
                       line=dict(color='black', width=1, dash=DASH), layer='below'))
for xa, ya in [('x', 'y'), ('x3', 'y3')]:
    shapes.append(dict(type='line', xref=xa, yref=ya + ' domain', x0=4200, x1=4200, y0=0, y1=1,
                       line=dict(color='black', width=1, dash=DASH), layer='below'))

# axis titles
xt = '<i>ν</i> (<i>μ</i>Hz)'
ytitles = {
    'A': '&lt;Δ<i>E</i>/<i>E</i>&gt;<sub>nb</sub>',
    'B': '&lt;Δ<i>E</i>/<i>E</i>&gt;<sub>ar</sub>',
    'C': '&lt;Δ<i>E\'</i>/<i>E\'</i>&gt;<sub>nb</sub>',
    'D': '&lt;Δ<i>E\'</i>/<i>E\'</i>&gt;<sub>ar</sub>',
}
ypos = {'A': (-0.158, 0.52), 'B': (-0.125, 0.5), 'C': (-0.162, 0.52), 'D': (-0.125, 0.5)}
for p, (xa, ya) in AX.items():
    anns.append(dict(text=xt, xref=xa + ' domain', yref=ya + ' domain', x=0.5, y=-0.103,
                     xanchor='center', yanchor='middle', showarrow=False,
                     font=dict(family=FONT, size=14, color='black')))
    anns.append(dict(text=ytitles[p], xref=xa + ' domain', yref=ya + ' domain', x=ypos[p][0], y=ypos[p][1],
                     xanchor='center', yanchor='middle', textangle=-90, showarrow=False,
                     font=dict(family=FONT, size=13, color='black')))

# legend n=0..4 (panel A)
rows = [0.915, 0.870, 0.825, 0.780, 0.735]
shapes.append(dict(type='rect', xref='x domain', yref='y domain', x0=0.022, x1=0.172, y0=0.690, y1=0.953,
                   line=dict(color='black', width=1), fillcolor='white', layer='above'))
for lab, c, yy in zip(legend_labels, [RED, GRN, BLU, CYN, ORG], rows):
    anns.append(dict(text='●', xref='x domain', yref='y domain', x=0.058, y=yy, xanchor='center', yanchor='middle',
                     showarrow=False, font=dict(family='DejaVu Sans', size=8, color=c)))
    anns.append(dict(text=lab, xref='x domain', yref='y domain', x=0.080, y=yy, xanchor='left', yanchor='middle',
                     showarrow=False, font=dict(family=FONT, size=11.5, color='black')))

# legend fitsc / fitsf
shapes.append(dict(type='rect', xref='x domain', yref='y domain', x0=0.825, x1=0.977, y0=0.047, y1=0.172,
                   line=dict(color='black', width=1), fillcolor='white', layer='above'))
for lab, sym, ss, yy in [('fitsc', '●', 7, 0.136), ('fitsf', '◇', 11, 0.081)]:
    anns.append(dict(text=lab, xref='x domain', yref='y domain', x=0.914, y=yy, xanchor='right', yanchor='middle',
                     showarrow=False, font=dict(family=FONT, size=13, color='black')))
    anns.append(dict(text=sym, xref='x domain', yref='y domain', x=0.940, y=yy, xanchor='center', yanchor='middle',
                     showarrow=False, font=dict(family='DejaVu Sans', size=ss, color='black')))

fig.update_layout(shapes=shapes, annotations=anns)
fig.write_html('out.html')
